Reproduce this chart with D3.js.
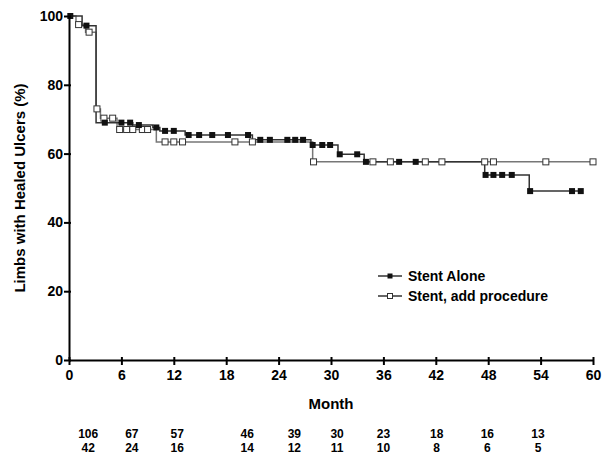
<!DOCTYPE html>
<html>
<head>
<meta charset="utf-8">
<script src="https://cdn.jsdelivr.net/npm/d3@7"></script>
<style>
  body { margin: 0; background: #fff; }
  text { font-family: "Liberation Sans", Arial, sans-serif; font-weight: bold; }
</style>
</head>
<body>
<script>
// Stent Alone: step changes [month, percent] and censor marks (months)
const aloneSteps = [[0, 100], [1.5, 97.2], [3.1, 69], [7.3, 68.3], [9.6, 67.6], [10.4, 66.6], [13.3, 65.4], [21, 64], [27.7, 62.5], [30.8, 59.8], [33.8, 57.6], [47.6, 53.8], [52.7, 49.1]];
const aloneEnd = 58.6;
const aloneCensor = [0.15, 2.0, 4.1, 6.0, 7.0, 8.0, 10.0, 11.0, 12.0, 13.7, 14.9, 16.4, 18.2, 20.5, 21.9, 23.0, 25.0, 25.9, 26.8, 27.9, 29.0, 29.9, 31.0, 33.0, 34.0, 37.8, 39.7, 47.7, 48.6, 49.6, 50.7, 52.8, 57.6, 58.6];

// Stent, add procedure
const addSteps = [[0, 100], [0.8, 97.5], [1.9, 95.3], [3.1, 73], [3.6, 70.3], [5.5, 67], [10, 63.4], [27.9, 57.6]];
const addEnd = 60;
const addCensor = [1.1, 2.3, 3.2, 4.0, 5.0, 5.8, 6.6, 7.3, 8.4, 9.0, 11.0, 12.0, 13.0, 19.0, 21.0, 28.0, 34.8, 36.8, 40.8, 42.7, 47.6, 48.6, 54.6, 60];

const xTicks = [0, 6, 12, 18, 24, 30, 36, 42, 48, 54, 60];
const yTicks = [0, 20, 40, 60, 80, 100];

// numbers at risk
const riskMonths = [2.2, 7.2, 12.4, 20.4, 25.8, 30.7, 36, 42.1, 47.9, 53.7];
const riskAlone = [106, 67, 57, 46, 39, 30, 23, 18, 16, 13];
const riskAdd = [42, 24, 16, 14, 12, 11, 10, 8, 6, 5];

const W = 606, H = 456;
const margin = { top: 16, right: 13, bottom: 96, left: 69 };

const svg = d3.select("body").append("svg")
  .attr("width", W)
  .attr("height", H);

const x = d3.scaleLinear().domain([0, 60]).range([margin.left, W - margin.right]);
const y = d3.scaleLinear().domain([0, 100]).range([H - margin.bottom, margin.top]);

function stepPoints(steps, end) {
  const pts = [];
  steps.forEach((s, i) => {
    if (i > 0) pts.push([s[0], steps[i - 1][1]]);
    pts.push(s);
  });
  pts.push([end, steps[steps.length - 1][1]]);
  return pts;
}
function valueAt(steps, t) {
  let v = steps[0][1];
  steps.forEach(s => { if (s[0] <= t) v = s[1]; });
  return v;
}

const line = d3.line().x(d => x(d[0])).y(d => y(d[1]));

// curves
svg.append("path")
  .attr("d", line(stepPoints(addSteps, addEnd)))
  .attr("fill", "none").attr("stroke", "#777").attr("stroke-width", 1.5);
svg.append("path")
  .attr("d", line(stepPoints(aloneSteps, aloneEnd)))
  .attr("fill", "none").attr("stroke", "#333").attr("stroke-width", 1.5);

const ms = 6;
svg.append("g").selectAll("rect")
  .data(addCensor)
  .enter().append("rect")
  .attr("x", d => x(d) - ms / 2)
  .attr("y", d => y(valueAt(addSteps, d)) - ms / 2)
  .attr("width", ms).attr("height", ms)
  .attr("fill", "#fff").attr("stroke", "#333").attr("stroke-width", 1);
svg.append("g").selectAll("rect")
  .data(aloneCensor)
  .enter().append("rect")
  .attr("x", d => x(d) - ms / 2)
  .attr("y", d => y(valueAt(aloneSteps, d)) - ms / 2)
  .attr("width", ms).attr("height", ms)
  .attr("fill", "#111");

// axes
const xAxis = svg.append("g")
  .attr("transform", `translate(0,${y(0)})`)
  .call(d3.axisBottom(x).tickValues(xTicks).tickSize(5).tickSizeOuter(0));
const yAxis = svg.append("g")
  .attr("transform", `translate(${x(0)},0)`)
  .call(d3.axisLeft(y).tickValues(yTicks).tickSize(5).tickSizeOuter(0));
[xAxis, yAxis].forEach(a => {
  a.select(".domain").attr("stroke", "#000").attr("stroke-width", 2);
  a.selectAll(".tick line").attr("stroke", "#000").attr("stroke-width", 2);
  a.selectAll(".tick text").attr("fill", "#000").style("font-size", "14px");
});
xAxis.selectAll(".tick line").attr("y1", -3);
xAxis.selectAll(".tick text").attr("dy", "0.85em");
yAxis.selectAll(".tick line").attr("x1", 2);
yAxis.selectAll(".tick text").attr("x", -6);

// axis labels
svg.append("text")
  .attr("x", x(30)).attr("y", 409)
  .attr("text-anchor", "middle")
  .style("font-size", "15px")
  .text("Month");
svg.append("text")
  .attr("transform", `translate(25,${y(50)}) rotate(-90)`)
  .attr("text-anchor", "middle")
  .style("font-size", "15px")
  .text("Limbs with Healed Ulcers (%)");

// numbers at risk
const risk = svg.append("g").style("font-size", "12px").attr("text-anchor", "middle");
risk.selectAll(".r1").data(riskAlone).enter().append("text")
  .attr("x", (d, i) => x(riskMonths[i])).attr("y", 438).text(d => d);
risk.selectAll(".r2").data(riskAdd).enter().append("text")
  .attr("x", (d, i) => x(riskMonths[i])).attr("y", 452).text(d => d);

// legend
const legendItems = [
  { label: "Stent Alone", fill: "#111", stroke: "none", line: "#333" },
  { label: "Stent, add procedure", fill: "#fff", stroke: "#333", line: "#333" }
];
const legend = svg.append("g").attr("transform", "translate(378,276)");
legendItems.forEach((it, i) => {
  const g = legend.append("g").attr("transform", `translate(0,${i * 20})`);
  g.append("line").attr("x1", 0).attr("x2", 24).attr("y1", 0).attr("y2", 0)
    .attr("stroke", it.line).attr("stroke-width", 1.5);
  g.append("rect").attr("x", 9.5).attr("y", -2.5).attr("width", 5).attr("height", 5)
    .attr("fill", it.fill).attr("stroke", it.stroke);
  g.append("text").attr("x", 30).attr("y", 5).style("font-size", "14px").text(it.label);
});
</script>
</body>
</html>
